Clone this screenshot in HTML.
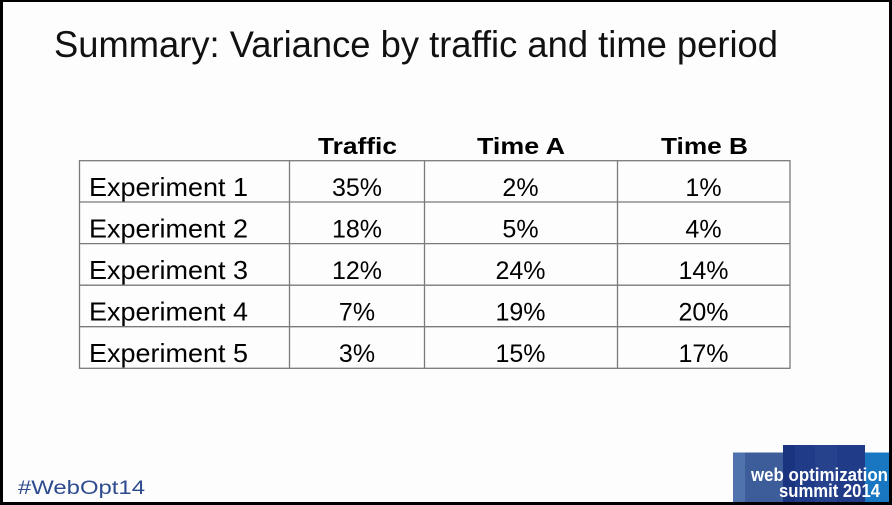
<!DOCTYPE html>
<html>
<head>
<meta charset="utf-8">
<style>
  html,body{margin:0;padding:0;background:#000;}
  svg{display:block;}
  text{font-family:"Liberation Sans", Arial, sans-serif;}
</style>
</head>
<body>
<svg width="892" height="505" viewBox="0 0 892 505" xmlns="http://www.w3.org/2000/svg">
  <rect x="0" y="0" width="892" height="505" fill="#000"/>
  <rect x="3" y="2" width="886" height="500" fill="#fdfdfd"/>

  <!-- Title -->
  <text x="54" y="57" font-size="37" fill="#111" textLength="724" lengthAdjust="spacingAndGlyphs">Summary: Variance by traffic and time period</text>

  <!-- Header -->
  <text x="318" y="154" font-size="23" font-weight="bold" fill="#000" textLength="79" lengthAdjust="spacingAndGlyphs">Traffic</text>
  <text x="477" y="154" font-size="23" font-weight="bold" fill="#000" textLength="88" lengthAdjust="spacingAndGlyphs">Time A</text>
  <text x="661" y="154" font-size="23" font-weight="bold" fill="#000" textLength="87" lengthAdjust="spacingAndGlyphs">Time B</text>

  <!-- Table grid -->
  <g stroke="#7a7a7a" stroke-width="1.3" fill="none">
    <rect x="79.5" y="160.7" width="710.5" height="207.6"/>
    <line x1="79.5" y1="202" x2="790" y2="202"/>
    <line x1="79.5" y1="243.6" x2="790" y2="243.6"/>
    <line x1="79.5" y1="285.2" x2="790" y2="285.2"/>
    <line x1="79.5" y1="326.7" x2="790" y2="326.7"/>
    <line x1="289.5" y1="160.7" x2="289.5" y2="368.3"/>
    <line x1="424.5" y1="160.7" x2="424.5" y2="368.3"/>
    <line x1="617.5" y1="160.7" x2="617.5" y2="368.3"/>
  </g>

  <!-- Row labels -->
  <g font-size="26" fill="#000">
    <text x="89" y="196" textLength="159" lengthAdjust="spacingAndGlyphs">Experiment 1</text>
    <text x="89" y="237.5" textLength="159" lengthAdjust="spacingAndGlyphs">Experiment 2</text>
    <text x="89" y="279" textLength="159" lengthAdjust="spacingAndGlyphs">Experiment 3</text>
    <text x="89" y="320.5" textLength="159" lengthAdjust="spacingAndGlyphs">Experiment 4</text>
    <text x="89" y="362" textLength="159" lengthAdjust="spacingAndGlyphs">Experiment 5</text>
  </g>

  <!-- Values -->
  <g font-size="25" fill="#000" text-anchor="middle">
    <text x="357" y="196">35%</text>
    <text x="357" y="237.5">18%</text>
    <text x="357" y="279">12%</text>
    <text x="357" y="320.5">7%</text>
    <text x="357" y="362">3%</text>

    <text x="520.5" y="196">2%</text>
    <text x="520.5" y="237.5">5%</text>
    <text x="520.5" y="279">24%</text>
    <text x="520.5" y="320.5">19%</text>
    <text x="520.5" y="362">15%</text>

    <text x="703.5" y="196">1%</text>
    <text x="703.5" y="237.5">4%</text>
    <text x="703.5" y="279">14%</text>
    <text x="703.5" y="320.5">20%</text>
    <text x="703.5" y="362">17%</text>
  </g>

  <!-- Footer hashtag -->
  <text x="18" y="494" font-size="19" fill="#2d4b8e" textLength="127" lengthAdjust="spacingAndGlyphs">#WebOpt14</text>

  <!-- Logo -->
  <g>
    <rect x="733" y="452.5" width="50" height="49.5" fill="#3d5d9a"/>
    <rect x="733" y="452.5" width="12" height="49.5" fill="#5073ad"/>
    <rect x="783" y="445" width="82" height="57" fill="#203c88"/>
    <rect x="783" y="445" width="12" height="57" fill="#1a3480"/>
    <rect x="815" y="445" width="22" height="57" fill="#26428c"/>
    <rect x="865" y="452.5" width="24" height="49.5" fill="#1877c0"/>
    <text x="751" y="481" font-size="18" font-weight="bold" fill="#fff" textLength="137" lengthAdjust="spacingAndGlyphs">web optimization</text>
    <text x="779" y="497" font-size="18" font-weight="bold" fill="#fff" textLength="101" lengthAdjust="spacingAndGlyphs">summit 2014</text>
  </g>
</svg>
</body>
</html>
